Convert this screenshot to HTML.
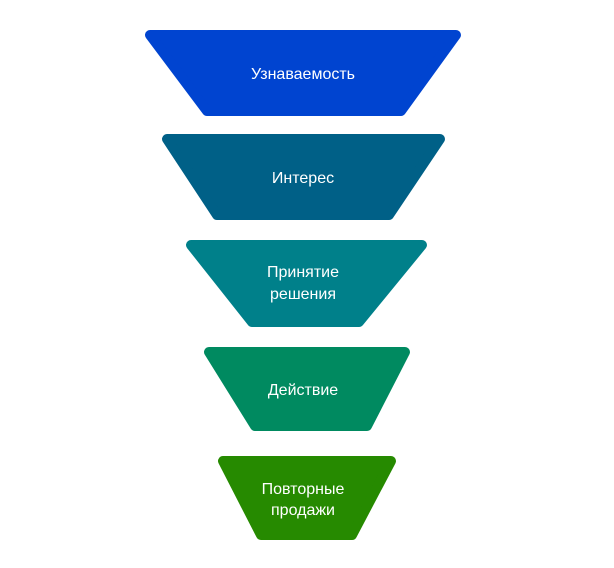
<!DOCTYPE html>
<html><head><meta charset="utf-8"><style>
html,body{margin:0;padding:0;background:#fff;}
svg{display:block;}
text{font-family:"Liberation Sans",sans-serif;font-size:16px;fill:#fff;text-anchor:middle;}
</style></head><body>
<svg width="614" height="568" viewBox="0 0 614 568">
<g stroke-linejoin="round" stroke-width="10">
<polygon points="150,35 456,35 401,111 207,111" fill="#0044d0" stroke="#0044d0"/>
<polygon points="167,139 440,139 389,215 217,215" fill="#006087" stroke="#006087"/>
<polygon points="191,245 422,245 359,322 252,322" fill="#00808a" stroke="#00808a"/>
<polygon points="209,352 405,352 367,426 255,426" fill="#008a60" stroke="#008a60"/>
<polygon points="223,461 391,461 352,535 261,535" fill="#268a00" stroke="#268a00"/>
</g>
<text x="303" y="79">Узнаваемость</text>
<text x="303" y="183">Интерес</text>
<text x="303" y="277">Принятие</text>
<text x="303" y="299">решения</text>
<text x="303" y="395">Действие</text>
<text x="303" y="494">Повторные</text>
<text x="303" y="515">продажи</text>
</svg>
</body></html>
